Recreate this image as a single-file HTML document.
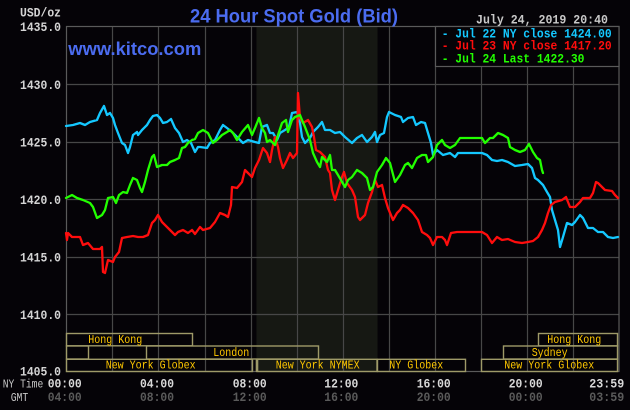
<!DOCTYPE html>
<html><head><meta charset="utf-8"><style>
html,body{margin:0;padding:0;background:#050307;}
svg{display:block;}
.m{font-family:"Liberation Mono",monospace;}
</style></head><body>
<svg width="630" height="410" viewBox="0 0 630 410" xmlns="http://www.w3.org/2000/svg">
<rect x="0" y="0" width="630" height="410" fill="#050307"/>
<rect x="256.5" y="27" width="121" height="345" fill="#161813"/>
<g stroke="#474747" stroke-width="1.2" fill="none">
<line x1="112.5" y1="27" x2="112.5" y2="372"/>
<line x1="158.5" y1="27" x2="158.5" y2="372"/>
<line x1="205.5" y1="27" x2="205.5" y2="372"/>
<line x1="251.5" y1="27" x2="251.5" y2="372"/>
<line x1="297.5" y1="27" x2="297.5" y2="372"/>
<line x1="343.5" y1="27" x2="343.5" y2="372"/>
<line x1="389.5" y1="27" x2="389.5" y2="372"/>
<line x1="435.5" y1="27" x2="435.5" y2="372"/>
<line x1="481.5" y1="27" x2="481.5" y2="372"/>
<line x1="527.5" y1="27" x2="527.5" y2="372"/>
<line x1="573.5" y1="27" x2="573.5" y2="372"/>
<line x1="66" y1="84.5" x2="619" y2="84.5"/>
<line x1="66" y1="142.5" x2="619" y2="142.5"/>
<line x1="66" y1="199.5" x2="619" y2="199.5"/>
<line x1="66" y1="257.5" x2="619" y2="257.5"/>
<line x1="66" y1="314.5" x2="619" y2="314.5"/>
</g>
<rect x="66.5" y="26.5" width="552.5" height="345" fill="none" stroke="#5a5a5a" stroke-width="1.2"/>
<rect x="435.5" y="26.5" width="183.5" height="40" fill="#050307" stroke="#5a5a5a" stroke-width="1.2"/>
<g fill="none" stroke-width="2.3" stroke-linejoin="round" stroke-linecap="round">
<polyline stroke="#14c8ff" points="66,126 73,125 80,123 85,125 90,122 97,120 100,113 104,106 107,115 110,113 113,118 115,125 118,133 122,143 125,145 128,153 130,147 133,135 137,132 138,135 142,130 147,125 150,120 153,116 157,115 160,118 163,123 167,122 171,119 175,128 179,133 183,142 187,140 191,143 195,152 198,147 200,147 207,148 210,143 215,140 220,130 223,125 227,128 232,132 237,137 243,143 248,140 255,142 259,143 262,127 267,125 270,133 273,133 277,140 280,133 285,130 289,127 292,113 297,112 300,123 302,137 305,143 310,138 313,132 318,127 322,122 325,130 330,130 335,133 340,132 345,137 352,143 357,138 362,135 367,142 372,137 375,132 377,142 380,135 384,133 387,117 389,112 395,115 401,117 403,122 408,118 413,117 416,125 421,122 425,123 428,133 431,143 433,155 437,150 443,155 450,153 455,157 458,153 470,153 482,153 487,155 492,160 497,161 502,160 508,162 515,166 522,165 528,164 532,168 535,178 538,180 543,185 547,192 550,197 552,210 555,220 558,230 560,247 563,237 567,223 572,225 575,222 580,215 583,218 588,228 593,228 598,232 603,232 608,237 613,238 618,237"/>
<polyline stroke="#ff0d0d" points="66,233 67,240 68,233 72,237 80,237 83,245 88,243 93,249 100,249 102,247 103,272 105,273 108,260 113,262 115,257 119,252 122,238 127,237 133,236 138,237 143,237 148,235 152,223 155,220 158,215 162,222 165,225 170,230 175,235 178,232 183,230 188,233 192,230 195,234 200,227 203,230 210,228 215,222 220,213 225,215 228,217 231,205 232,187 237,188 242,182 245,170 248,173 252,177 255,168 259,160 263,148 267,153 270,162 272,150 275,137 278,147 280,158 283,168 287,160 290,153 293,158 297,153 298,93 300,118 303,123 308,120 312,127 314,137 316,150 320,152 325,157 328,170 330,173 332,190 335,200 338,190 342,177 344,172 347,183 352,190 355,197 358,217 360,220 365,215 368,203 372,192 375,180 378,187 382,185 385,198 388,208 393,220 397,213 400,210 403,205 408,208 413,213 418,220 422,232 427,235 430,238 433,245 437,237 442,237 445,240 447,245 451,233 457,232 462,232 470,232 482,232 487,235 492,243 497,237 502,240 508,239 515,242 522,243 528,242 533,241 538,237 542,230 545,223 548,213 551,205 555,202 562,200 566,197 570,207 575,207 580,202 583,198 590,198 593,193 596,182 598,183 602,187 605,190 612,191 615,195 618,198"/>
<polyline stroke="#22ff00" points="66,198 72,195 77,198 83,200 90,203 93,207 97,218 102,215 105,210 108,198 113,197 116,203 119,195 123,192 127,193 130,185 133,178 137,180 140,188 142,192 145,182 148,170 152,157 154,155 157,167 162,165 167,165 170,162 175,160 179,158 182,148 185,147 188,143 192,140 195,139 198,133 203,130 208,133 213,143 217,140 222,135 227,132 230,130 233,133 237,140 242,132 248,125 252,135 255,128 259,118 262,128 265,133 267,142 270,140 275,145 278,135 282,123 286,120 288,132 292,120 295,117 300,115 302,120 305,127 310,140 313,153 317,162 320,167 322,157 327,162 330,155 332,170 335,170 338,175 345,187 348,180 352,177 357,170 362,173 367,178 370,190 373,187 377,172 382,165 386,158 390,163 395,182 400,175 405,165 408,163 412,168 417,158 422,155 426,155 428,162 433,157 437,145 442,140 445,145 450,148 455,145 460,138 470,138 482,138 485,143 490,138 493,138 498,133 503,135 508,138 510,147 515,150 520,152 525,150 529,144 533,152 537,158 540,160 542,170 543,173"/>
</g>
<g fill="none" stroke="#9e9a68" stroke-width="1.4">
<rect x="66.5" y="333.5" width="126" height="12.3"/>
<rect x="538.5" y="333.5" width="79" height="12.3"/>
<rect x="66.5" y="346" width="22" height="13"/>
<rect x="146.5" y="346" width="172" height="13"/>
<rect x="503.5" y="346" width="114" height="13"/>
<rect x="66.5" y="359.3" width="186" height="12.2"/>
<rect x="257" y="359.3" width="120" height="12.2"/>
<line x1="257" y1="359" x2="257" y2="372" stroke-width="2.6"/>
<rect x="377.5" y="359.3" width="88" height="12.2"/>
<rect x="481.5" y="359.3" width="136" height="12.2"/>
</g>
<g class="m" fill="#ffc800" font-size="11.5">
<text x="88.3" y="343" textLength="54" lengthAdjust="spacingAndGlyphs">Hong Kong</text>
<text x="547.3" y="343" textLength="54" lengthAdjust="spacingAndGlyphs">Hong Kong</text>
<text x="213.3" y="356" textLength="36" lengthAdjust="spacingAndGlyphs">London</text>
<text x="531.7" y="356" textLength="36" lengthAdjust="spacingAndGlyphs">Sydney</text>
<text x="105.7" y="368.5" textLength="90" lengthAdjust="spacingAndGlyphs">New York Globex</text>
<text x="275.7" y="368.5" textLength="84" lengthAdjust="spacingAndGlyphs">New York NYMEX</text>
<text x="389.3" y="368.5" textLength="54" lengthAdjust="spacingAndGlyphs">NY Globex</text>
<text x="504.3" y="368.5" textLength="90" lengthAdjust="spacingAndGlyphs">New York Globex</text>
</g>
<g class="m" fill="#d4d4d4" font-size="12.5" font-weight="bold" text-anchor="end">
<text x="61" y="16.7" textLength="41" lengthAdjust="spacingAndGlyphs">USD/oz</text>
<text x="61" y="31" textLength="41" lengthAdjust="spacingAndGlyphs">1435.0</text>
<text x="61" y="88.8" textLength="41" lengthAdjust="spacingAndGlyphs">1430.0</text>
<text x="61" y="146.5" textLength="41" lengthAdjust="spacingAndGlyphs">1425.0</text>
<text x="61" y="204" textLength="41" lengthAdjust="spacingAndGlyphs">1420.0</text>
<text x="61" y="261.5" textLength="41" lengthAdjust="spacingAndGlyphs">1415.0</text>
<text x="61" y="319" textLength="41" lengthAdjust="spacingAndGlyphs">1410.0</text>
<text x="61" y="375.5" textLength="41" lengthAdjust="spacingAndGlyphs">1405.0</text>
</g>
<g class="m" font-size="12" fill="#c8c8c8">
<text x="2.7" y="387.7" textLength="40.6" lengthAdjust="spacingAndGlyphs">NY Time</text>
<text x="10.7" y="401" textLength="17.6" lengthAdjust="spacingAndGlyphs">GMT</text>
</g>
<g class="m" font-size="12.5" font-weight="bold" fill="#d8d8d8">
<text x="47.7" y="387.7" textLength="34" lengthAdjust="spacingAndGlyphs">00:00</text>
<text x="140" y="387.7" textLength="34" lengthAdjust="spacingAndGlyphs">04:00</text>
<text x="232.7" y="387.7" textLength="34" lengthAdjust="spacingAndGlyphs">08:00</text>
<text x="324.3" y="387.7" textLength="34" lengthAdjust="spacingAndGlyphs">12:00</text>
<text x="416.7" y="387.7" textLength="34" lengthAdjust="spacingAndGlyphs">16:00</text>
<text x="508.7" y="387.7" textLength="34" lengthAdjust="spacingAndGlyphs">20:00</text>
<text x="589.3" y="387.7" textLength="35" lengthAdjust="spacingAndGlyphs">23:59</text>
</g>
<g class="m" font-size="12.5" font-weight="bold" fill="#5a5a5a">
<text x="47.7" y="401" textLength="34" lengthAdjust="spacingAndGlyphs">04:00</text>
<text x="140" y="401" textLength="34" lengthAdjust="spacingAndGlyphs">08:00</text>
<text x="232.7" y="401" textLength="34" lengthAdjust="spacingAndGlyphs">12:00</text>
<text x="324.3" y="401" textLength="34" lengthAdjust="spacingAndGlyphs">16:00</text>
<text x="416.7" y="401" textLength="34" lengthAdjust="spacingAndGlyphs">20:00</text>
<text x="508.7" y="401" textLength="34" lengthAdjust="spacingAndGlyphs">00:00</text>
<text x="589.3" y="401" textLength="35" lengthAdjust="spacingAndGlyphs">03:59</text>
</g>
<text x="190" y="22.3" font-family="Liberation Sans, Arial, sans-serif" font-size="19" font-weight="bold" fill="#4b6cf0" textLength="208" lengthAdjust="spacingAndGlyphs">24 Hour Spot Gold (Bid)</text>
<text x="68.3" y="55" font-family="Liberation Sans, Arial, sans-serif" font-size="18" font-weight="bold" fill="#4b6cf0" textLength="133" lengthAdjust="spacingAndGlyphs">www.kitco.com</text>
<text class="m" x="476" y="23.3" font-size="12.5" font-weight="bold" fill="#c8c8c8" textLength="132" lengthAdjust="spacingAndGlyphs">July 24, 2019 20:40</text>
<g class="m" font-size="12.5" font-weight="bold">
<text x="441.7" y="37.5" fill="#14c8ff" textLength="170" lengthAdjust="spacingAndGlyphs">- Jul 22 NY close 1424.00</text>
<text x="441.7" y="49.5" fill="#ff0d0d" textLength="170" lengthAdjust="spacingAndGlyphs">- Jul 23 NY close 1417.20</text>
<text x="441.7" y="62.3" fill="#22ff00" textLength="142.8" lengthAdjust="spacingAndGlyphs">- Jul 24 Last 1422.30</text>
</g>
</svg>
</body></html>
